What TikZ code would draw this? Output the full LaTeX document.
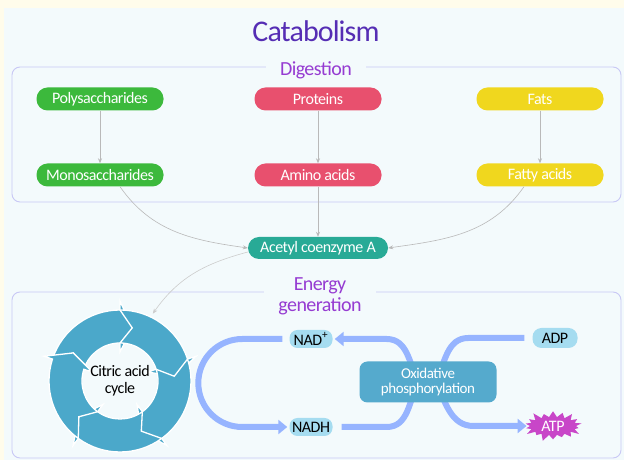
\documentclass[tikz,border=0pt]{standalone}
\usepackage{fontspec}
\setmainfont{Carlito}[LetterSpace=-3]
\usetikzlibrary{positioning, arrows.meta, shapes.symbols, calc}
\definecolor{cream}{RGB}{255,252,235}
\definecolor{panel}{RGB}{243,250,252}
\definecolor{frame}{RGB}{200,200,245}
\definecolor{titlec}{RGB}{85,45,180}
\definecolor{labelc}{RGB}{150,60,210}
\definecolor{greenc}{RGB}{60,185,60}
\definecolor{pinkc}{RGB}{232,80,110}
\definecolor{yellowc}{RGB}{240,215,30}
\definecolor{tealc}{RGB}{40,170,150}
\definecolor{cyclec}{RGB}{75,168,202}
\definecolor{oxc}{RGB}{85,170,205}
\definecolor{pillc}{RGB}{165,220,240}
\definecolor{flowc}{RGB}{150,180,255}
\definecolor{atpc}{RGB}{200,70,200}

\begin{document}
\begin{tikzpicture}[x=1pt, y=1pt,
    pill/.style={rounded corners=11pt, minimum width=127pt, minimum height=23pt, inner sep=0pt,
        text=white, font=\fontsize{16}{16}\selectfont},
    small/.style={fill=pillc, rounded corners=8pt, minimum width=43pt, minimum height=18pt, inner sep=0pt,
        font=\fontsize{16}{16}\selectfont},
    group/.style={draw=frame, line width=0.9pt, rounded corners=8pt},
    grouplabel/.style={fill=panel, text=labelc, inner xsep=14pt, inner ysep=1pt, align=center,
        font=\fontsize{20}{21}\selectfont},
    gray arrow/.style={draw=gray!55, line width=0.6pt, -{Stealth[length=5pt, width=4pt]}},
    flow/.style={draw=flowc, line width=6pt},
    flow arrow/.style={flow, -{Triangle[length=9pt, width=14pt]}},
    cycarrow/.style={fill=cyclec, draw=white, line width=1.3pt, line join=miter}]

    % background
    \fill[cream] (0,0) rectangle (624,460);
    \fill[panel] (4,0) rectangle (624,452);
    \node[text=titlec, font=\fontsize{30}{32}\selectfont] (title) at (316,429) {Catabolism};

    % digestion
    \draw[group] (12,258) rectangle (621,393);
    \node[grouplabel] (digest) at (316,390) {Digestion};
    \node[pill, fill=greenc] (poly) at (100,361) {Polysaccharides};
    \node[pill, fill=pinkc] (prot) at (318,361) {Proteins};
    \node[pill, fill=yellowc] (fats) at (540,361) {Fats};
    \node[pill, fill=greenc] (mono) at (100,285) {Monosaccharides};
    \node[pill, fill=pinkc] (amino) at (318,285) {Amino acids};
    \node[pill, fill=yellowc] (fatty) at (540,285) {Fatty acids};
    \draw[gray arrow] (poly) -- (mono);
    \draw[gray arrow] (prot) -- (amino);
    \draw[gray arrow] (fats) -- (fatty);

    \node[pill, fill=tealc, minimum width=140pt, minimum height=22pt] (acetyl) at (318,212) {Acetyl coenzyme A};
    \draw[gray arrow] ([xshift=20pt]mono.south) to[out=-55, in=172] (acetyl.west);
    \draw[gray arrow] (amino) -- (acetyl);
    \draw[gray arrow] ([xshift=-16pt]fatty.south) to[out=-125, in=8] (acetyl.east);

    % energy generation
    \draw[group] (12,2) rectangle (621,168);
    \node[grouplabel] (energy) at (320,164) {Energy\\generation};

    % citric acid cycle
    \coordinate (cyc) at (120,79);
    \begin{scope}[shift={(cyc)}]
        \foreach \b [evaluate=\b as \t using \b+72, evaluate=\b as \tip using \b-13,
                     evaluate=\b as \notch using \b+59] in {90,18,-54,-126,-198}
            \filldraw[cycarrow] (\t:71) arc[start angle=\t, end angle=\b, radius=71]
                -- (\b:80) -- (\tip:54.5) -- (\b:29) -- (\b:38)
                arc[start angle=\b, end angle=\t, radius=38] -- (\notch:54.5) -- cycle;
    \end{scope}
    \node[align=center, font=\fontsize{16}{17}\selectfont] (citric) at (cyc) {Citric acid\\cycle};
    \coordinate (cyctop) at ($(cyc)+(64:75)$);
    \draw[gray arrow, draw=gray!40] ([yshift=-4pt]acetyl.west) to[out=195, in=55] (cyctop);

    % oxidative phosphorylation
    \node[small] (nadp) at (311,121) {NAD\textsuperscript{+}};
    \node[small] (nadh) at (311,33) {NADH};
    \node[small, minimum width=45pt, minimum height=20pt, rounded corners=9pt] (adp) at (555,122) {ADP};
    \node[starburst, fill=atpc, text=white, starburst points=18, starburst point height=8pt,
          minimum width=62pt, minimum height=34pt, inner sep=0pt,
          font=\fontsize{16}{16}\selectfont] (atp) at (553,34) {ATP};
    \coordinate (oxmid) at (428,78);

    \draw[flow arrow] ([xshift=-7pt]nadp.west) -- ++(-40,0)
        arc[start angle=90, end angle=270, radius=44] -- ([xshift=-2pt]nadh.west);
    \draw[flow] ([xshift=9pt]nadh.east) -- ++(45,0) to[out=0, in=-115] ($(oxmid)+(-10,0)$);
    \draw[flow arrow] ($(oxmid)+(-10,0)$) to[out=115, in=0] ($(nadp.east)+(54,0)$) -- ([xshift=2pt]nadp.east);
    \draw[flow] ([xshift=-8pt]adp.west) -- ++(-56,0) to[out=180, in=65] ($(oxmid)+(8,0)$);
    \draw[flow arrow] ($(oxmid)+(8,0)$) to[out=-65, in=180] ($(atp.west)+(-56,0)$) -- ([xshift=-3pt]atp.west);

    \node[fill=oxc, text=white, rounded corners=8pt, minimum width=137pt, minimum height=41pt,
          align=center, inner sep=0pt, font=\fontsize{15}{15}\selectfont] (ox) at (oxmid)
          {Oxidative\\phosphorylation};
\end{tikzpicture}
\end{document}
